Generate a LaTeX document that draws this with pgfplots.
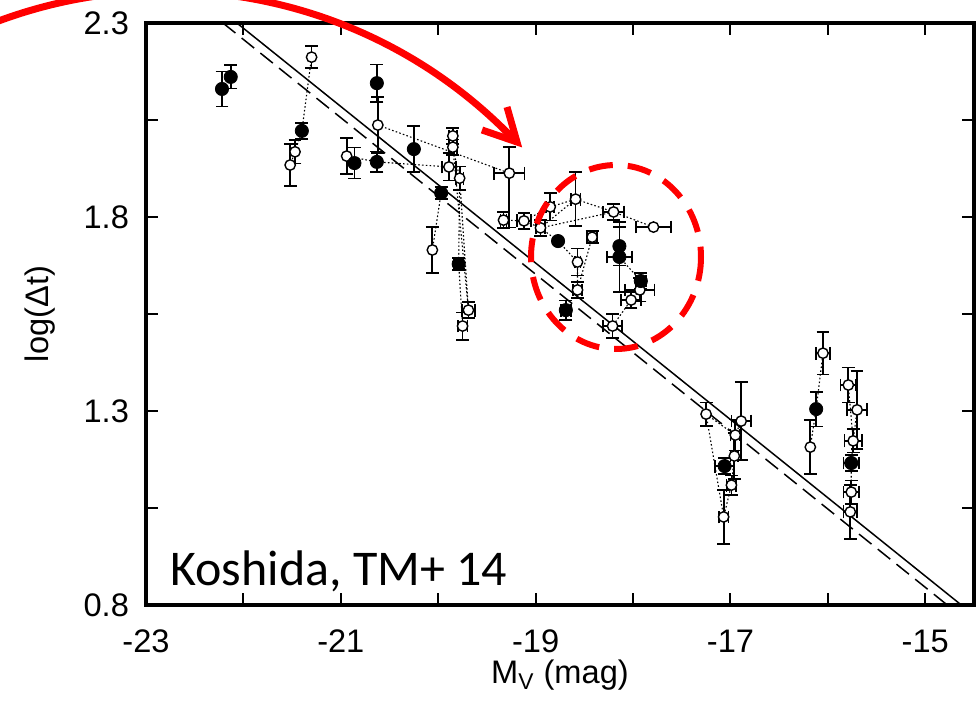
\documentclass[border=0pt]{standalone}
\usepackage{fontspec}
\setmainfont{Liberation Sans}
\newfontfamily\notefont{Carlito}
\usepackage{pgfplots}
\usepackage{pgfplotstable}
\pgfplotsset{compat=1.18}

% open symbols, vertical error bars only
\pgfplotstableread{
x y eyp eym
-21.52 1.934 0.055 0.055
-21.47 1.968 0.030 0.030
-21.30 2.212 0.028 0.028
-20.94 1.957 0.046 0.046
-20.62 2.037 0.072 0.072
-20.06 1.715 0.060 0.060
-17.25 1.292 0.030 0.030
-16.18 1.207 0.070 0.070
}\openY

% open symbols, error bars in both directions
\pgfplotstableread{
x y ex eyp eym
-19.89 1.929 0.07 0.035 0.035
-19.85 2.009 0.04 0.020 0.020
-19.85 1.980 0.04 0.020 0.020
-19.78 1.900 0.04 0.030 0.030
-19.69 1.560 0.07 0.020 0.020
-19.75 1.519 0.05 0.035 0.035
-19.27 1.913 0.155 0.067 0.140
-19.33 1.792 0.03 0.020 0.020
-19.12 1.790 0.07 0.020 0.020
-18.95 1.772 0.05 0.020 0.020
-18.85 1.826 0.04 0.035 0.035
-18.59 1.846 0.05 0.070 0.070
-18.20 1.813 0.11 0.020 0.020
-17.79 1.774 0.18 0.000 0.000
-18.42 1.748 0.05 0.015 0.015
-18.57 1.684 0.03 0.035 0.035
-18.57 1.612 0.05 0.020 0.020
-18.02 1.586 0.10 0.020 0.020
-17.93 1.612 0.15 0.030 0.030
-18.21 1.519 0.10 0.030 0.030
-17.07 1.027 0.05 0.070 0.070
-16.99 1.109 0.05 0.025 0.025
-16.96 1.184 0.04 0.060 0.060
-16.95 1.238 0.05 0.040 0.040
-16.89 1.274 0.10 0.100 0.100
-16.05 1.449 0.07 0.055 0.055
-15.79 1.367 0.08 0.045 0.045
-15.70 1.303 0.10 0.100 0.100
-15.74 1.223 0.09 0.030 0.030
-15.76 1.091 0.08 0.030 0.030
-15.77 1.040 0.07 0.070 0.070
}\openXY

% filled symbols, vertical error bars only
\pgfplotstableread{
x y eyp eym
-22.22 2.130 0.045 0.045
-22.13 2.161 0.030 0.030
-21.40 2.022 0.020 0.020
-20.86 1.939 0.040 0.040
-20.63 1.942 0.027 0.027
-20.63 2.145 0.048 0.048
-20.25 1.975 0.060 0.060
-19.97 1.862 0.015 0.015
-18.77 1.738 0.000 0.000
-18.14 1.725 0.050 0.050
-16.12 1.305 0.045 0.045
}\fullY

% filled symbols, error bars in both directions
\pgfplotstableread{
x y ex eyp eym
-19.79 1.679 0.05 0.015 0.015
-18.69 1.560 0.05 0.025 0.025
-18.14 1.697 0.13 0.090 0.090
-17.92 1.635 0.05 0.020 0.020
-17.06 1.158 0.10 0.020 0.020
-15.76 1.166 0.08 0.020 0.020
}\fullXY

\tikzset{
  track/.style={black, line width=0.55pt, dash pattern=on 0.8pt off 1.1pt},
  openpt/.style={only marks, mark=*, mark size=2.6pt,
    mark options={fill=white, draw=black, line width=0.7pt}},
  fullpt/.style={only marks, mark=*, mark size=3.3pt,
    mark options={fill=black, draw=black}},
}

\begin{document}
\begin{tikzpicture}
\begin{axis}[
  at={(0,0)}, anchor=south west,
  width=414pt, height=291pt, scale only axis,
  xmin=-23, xmax=-14.5, ymin=0.8, ymax=2.3,
  xtick={-23,-22,...,-15},
  xticklabels={-23,,-21,,-19,,-17,,-15},
  ytick={0.8,1.05,1.3,1.55,1.8,2.05,2.3},
  yticklabels={0.8,,1.3,,1.8,,2.3},
  tick align=inside,
  major tick length=6pt,
  every tick/.style={black, line width=1pt},
  axis line style={line width=2pt},
  ticklabel style={font=\fontsize{16.3}{18}\selectfont},
  xticklabel style={anchor=base, yshift=-23.5pt},
  yticklabel style={anchor=east, xshift=-5pt},
  xlabel={M\textsubscript{V} (mag)},
  ylabel={log(Δt)},
  label style={font=\fontsize{16.3}{18}\selectfont},
  xlabel style={at={(axis description cs:0.5,-0.1357)}, anchor=base},
  ylabel style={at={(axis description cs:-0.128,0.5)}, anchor=center},
  error bars/error bar style={line width=0.9pt, black},
  error bars/error mark options={rotate=90, black, line width=0.9pt, mark size=3.2pt},
]
% fitted relations
\addplot[black, line width=0.75pt] coordinates {(-22.067,2.3) (-14.63,0.8)};
\addplot[black, line width=0.75pt, dash pattern=on 8pt off 4pt] coordinates {(-22.21,2.3) (-14.774,0.8)};

% dotted tracks joining epochs of the same object
\addplot[track] coordinates {(-21.30,2.212) (-21.40,2.022) (-21.47,1.968) (-21.52,1.934)};
\addplot[track] coordinates {(-20.62,2.037) (-19.27,1.913)};
\addplot[track] coordinates {(-20.94,1.957) (-20.63,1.942) (-19.89,1.929)};
\addplot[track] coordinates {(-19.97,1.862) (-20.06,1.715)};
\addplot[track] coordinates {(-19.85,2.009) (-19.85,1.980) (-19.78,1.900) (-19.79,1.679) (-19.75,1.519)};
\addplot[track] coordinates {(-19.78,1.900) (-19.69,1.560)};
\addplot[track] coordinates {(-19.85,1.980) (-19.69,1.560)};
\addplot[track] coordinates {(-19.33,1.792) (-19.12,1.790) (-18.95,1.772)};
\addplot[track] coordinates {(-19.12,1.790) (-18.85,1.826) (-18.59,1.846) (-18.20,1.813) (-17.79,1.774)};
\addplot[track] coordinates {(-18.95,1.772) (-18.59,1.846)};
\addplot[track] coordinates {(-18.95,1.772) (-18.20,1.813)};
\addplot[track] coordinates {(-18.95,1.772) (-18.77,1.738) (-18.57,1.684) (-18.57,1.612)};
\addplot[track] coordinates {(-18.42,1.748) (-18.57,1.612)};
\addplot[track] coordinates {(-18.14,1.697) (-17.92,1.635) (-17.93,1.612) (-18.02,1.586) (-18.21,1.519)};
\addplot[track] coordinates {(-17.25,1.292) (-17.07,1.027) (-16.99,1.109) (-16.96,1.184) (-16.95,1.238) (-16.89,1.274)};
\addplot[track] coordinates {(-17.25,1.292) (-16.95,1.238)};
\addplot[track] coordinates {(-16.18,1.207) (-16.12,1.305) (-16.05,1.449)};
\addplot[track] coordinates {(-15.79,1.367) (-15.74,1.223) (-15.76,1.166) (-15.76,1.091) (-15.77,1.040)};
\addplot[track] coordinates {(-15.70,1.303) (-15.74,1.223)};

% measurements
\addplot[openpt, error bars/.cd, y dir=both, y explicit]
  table[x=x, y=y, y error plus=eyp, y error minus=eym] {\openY};
\addplot[openpt, error bars/.cd, x dir=both, x explicit, y dir=both, y explicit]
  table[x=x, y=y, x error=ex, y error plus=eyp, y error minus=eym] {\openXY};
\addplot[fullpt, error bars/.cd, y dir=both, y explicit]
  table[x=x, y=y, y error plus=eyp, y error minus=eym] {\fullY};
\addplot[fullpt, error bars/.cd, x dir=both, x explicit, y dir=both, y explicit]
  table[x=x, y=y, x error=ex, y error plus=eyp, y error minus=eym] {\fullXY};

\node[anchor=base west, inner sep=0pt, font=\notefont\fontsize{25}{30}\selectfont]
  at (axis cs:-22.754,0.849) {Koshida, TM+ 14};
\end{axis}

% red highlights, laid out on a 976 x 709 grid measured from the top left
\begin{scope}[x=0.5pt, y=-0.5pt, shift={(-73pt,302.5pt)}]
  \draw[red, line width=3.5pt] (166,473) ++(-118:482) arc[start angle=-118, end angle=-44, radius=482];
  \draw[red, line width=3.5pt, line join=miter, line cap=butt] (482,130) -- (517,142) -- (507,107);
  \draw[red, line width=3pt, dash pattern=on 12pt off 7.5pt] (616,257) ellipse[x radius=85, y radius=92];
\end{scope}

\pgfresetboundingbox
\path[use as bounding box] (-73pt,-52pt) rectangle (415pt,302.5pt);
\end{tikzpicture}
\end{document}
